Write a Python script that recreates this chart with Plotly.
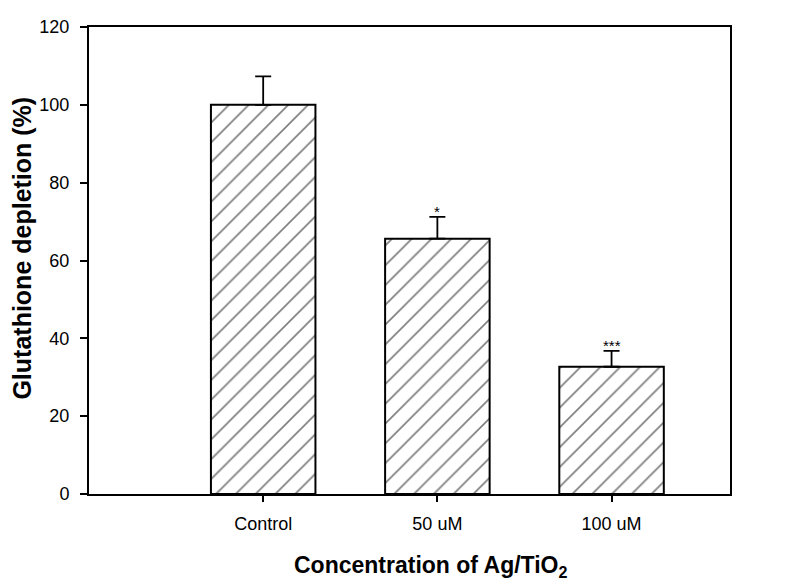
import plotly.graph_objects as go

categories = ["Control", "50 uM", "100 uM"]
values = [100, 65.6, 32.7]
errors = [7.3, 5.6, 4.1]
sig_labels = ["", "*", "***"]

fig = go.Figure()
fig.add_trace(go.Bar(
    x=categories, y=values, width=0.6,
    error_y=dict(type="data", array=errors, arrayminus=[0, 0, 0], symmetric=False,
                 color="black", thickness=1.8, width=8),
    marker=dict(color="white", line=dict(color="black", width=2),
                pattern=dict(shape="/", fgcolor="black", bgcolor="white", size=14, solidity=0.12)),
    showlegend=False,
))

for c, v, e, s in zip(categories, values, errors, sig_labels):
    if s:
        fig.add_annotation(x=c, y=v + e, text=s, showarrow=False, yanchor="bottom",
                           yshift=-5, font=dict(size=15, color="black"))

# axis titles as annotations: both sit a little off the plot centre
fig.add_annotation(x=0.534, y=-0.155, xref="paper", yref="paper", showarrow=False,
                   text="<b>Concentration of Ag/TiO<sub>2</sub></b>", font=dict(size=23),
                   xanchor="center", yanchor="middle")
fig.add_annotation(x=-0.105, y=0.527, xref="paper", yref="paper", showarrow=False,
                   text="<b>Glutathione depletion (%)</b>", font=dict(size=25), textangle=-90,
                   xanchor="center", yanchor="middle")

# page has an 8px body margin, so the figure is sized 8px smaller
fig.update_layout(
    width=778, height=574,
    margin=dict(l=81, r=56, t=9, b=88),
    plot_bgcolor="white", paper_bgcolor="white",
    font=dict(family="Liberation Sans, Arial", color="black", size=18),
)
fig.update_xaxes(
    range=[-1, 2.68], showline=True, linecolor="black", linewidth=2, mirror=True,
    ticks="outside", ticklen=6, tickwidth=1.5, tickcolor="black", showgrid=False,
    tickfont=dict(size=18), ticklabelstandoff=6,
)
fig.update_yaxes(
    range=[0, 120], dtick=20, showline=True, linecolor="black", linewidth=2, mirror=True,
    ticks="outside", ticklen=7, tickwidth=1.5, tickcolor="black", showgrid=False, zeroline=False,
    tickfont=dict(size=18), ticklabelstandoff=7,
)

fig.write_html("out.html")
